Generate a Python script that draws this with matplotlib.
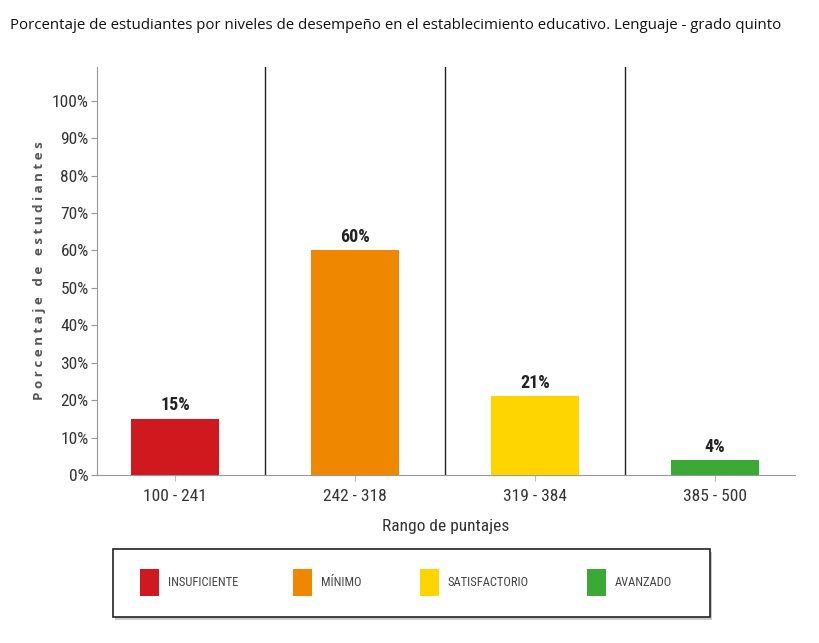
import numpy as np
import matplotlib.pyplot as plt
from matplotlib.patches import Rectangle

rangos = ["100 - 241", "242 - 318", "319 - 384", "385 - 500"]
niveles = ["INSUFICIENTE", "MÍNIMO", "SATISFACTORIO", "AVANZADO"]
porcentajes = [15, 60, 21, 4]
colores = ["#D0191E", "#F08700", "#FFD500", "#3BA935"]
yticks = np.arange(0, 101, 10)

cond = ["Roboto Condensed", "Open Sans Condensed", "DejaVu Sans"]
plt.rcParams["font.family"] = ["Open Sans", "DejaVu Sans"]

fig = plt.figure(figsize=(8.2, 6.43), dpi=100)
ax = fig.add_axes([0.1183, 0.2613, 0.8512, 0.6345])

x = np.arange(len(rangos))
bars = ax.bar(x, porcentajes, width=0.49, color=colores, zorder=3)
for xi, v in zip(x, porcentajes):
    ax.text(xi, v + 1.2, f"{v}%", ha="center", va="bottom", fontsize=13,
            fontweight="bold", family=cond, color="#222222")

for sep in x[:-1] + 0.5:
    ax.axvline(sep, color="#222222", lw=1, zorder=2)

ax.set_xlim(-0.433, 3.444)
ax.set_ylim(0, 109)
ax.set_yticks(yticks)
ax.set_yticklabels([f"{t}%" for t in yticks], family=cond, fontsize=12.5, color="#333333")
ax.set_xticks(x)
ax.set_xticklabels(rangos, family=cond, fontsize=12.5, color="#333333")
ax.tick_params(axis="y", length=4, color="#999999", pad=2)
ax.tick_params(axis="x", length=4, color="#bbbbbb", pad=6)
for s in ["top", "right"]:
    ax.spines[s].set_visible(False)
ax.spines["left"].set_color("#999999")
ax.spines["bottom"].set_color("#999999")

ax.set_xlabel("Rango de puntajes", family=cond, fontsize=12.5, color="#333333", va="center")
ax.xaxis.set_label_coords(0.5, -0.127)
ax.set_ylabel("P o r c e n t a j e   d e   e s t u d i a n t e s", fontsize=9.6,
              color="#555555", fontweight="bold", va="center")
ax.yaxis.set_label_coords(-0.082, 0.5)

fig.text(0.012, 0.961, "Porcentaje de estudiantes por niveles de desempeño en el establecimiento educativo. Lenguaje - grado quinto",
         fontsize=10.8, color="#111111", va="center", ha="left", fontweight="medium")

# recuadro de leyenda
lx0, ly0, lw, lh = 113 / 820, 1 - 617 / 643, 597 / 820, 68 / 643
fig.patches.append(Rectangle((lx0 + 0.003, ly0 - 0.004), lw, lh, transform=fig.transFigure,
                             facecolor="#cccccc", edgecolor="none", zorder=1))
fig.patches.append(Rectangle((lx0, ly0), lw, lh, transform=fig.transFigure,
                             facecolor="white", edgecolor="#222222", lw=1.2, zorder=2))
px = [140, 293, 420, 587]
for p, nivel, c in zip(px, niveles, colores):
    fig.patches.append(Rectangle((p / 820, 1 - 596 / 643), 19 / 820, 27 / 643,
                                 transform=fig.transFigure, facecolor=c, edgecolor="none", zorder=3))
    fig.text((p + 28) / 820, 1 - 583 / 643, nivel, family=cond, fontsize=9,
             color="#444444", va="center", ha="left", zorder=4)

fig.savefig("out.png", dpi=100)
